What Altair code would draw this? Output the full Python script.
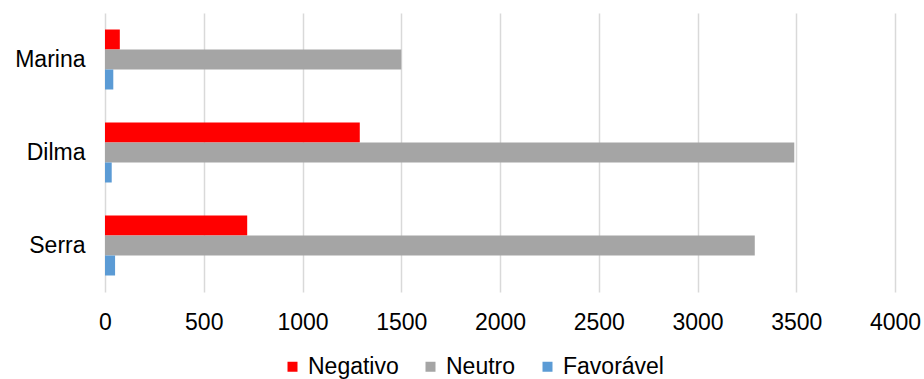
import altair as alt
import pandas as pd

# Candidates, top to bottom
candidates = ["Marina", "Dilma", "Serra"]
# Sentiment series
series = ["Negativo", "Neutro", "Favorável"]
series_colors = ["#FF0000", "#A5A5A5", "#5B9BD5"]

negativo = [75, 1290, 720]
neutro = [1500, 3490, 3290]
favoravel = [42, 34, 51]

x_ticks = [0, 500, 1000, 1500, 2000, 2500, 3000, 3500, 4000]

rows = []
for i, c in enumerate(candidates):
    rows.append({"Candidato": c, "Tipo": "Negativo", "Valor": negativo[i]})
    rows.append({"Candidato": c, "Tipo": "Neutro", "Valor": neutro[i]})
    rows.append({"Candidato": c, "Tipo": "Favorável", "Valor": favoravel[i]})
df = pd.DataFrame(rows)

FONT = "Liberation Sans"
FS = 23

chart = (
    alt.Chart(df)
    .mark_bar()
    .encode(
        x=alt.X(
            "Valor:Q",
            scale=alt.Scale(domain=[0, 4000], nice=False),
            axis=alt.Axis(
                values=x_ticks,
                format="d",
                title=None,
                grid=True,
                gridColor="#D9D9D9",
                gridWidth=1.5,
                domain=False,
                ticks=False,
                labelFlush=False,
                labelOverlap=False,
                labelPadding=19,
                labelFontSize=FS,
                labelFont=FONT,
                labelColor="#000000",
            ),
        ),
        y=alt.Y(
            "Candidato:N",
            sort=candidates,
            scale=alt.Scale(paddingInner=0.355, paddingOuter=0.1775),
            axis=alt.Axis(
                title=None,
                domain=False,
                ticks=False,
                grid=False,
                labelPadding=20,
                labelFontSize=FS,
                labelFont=FONT,
                labelColor="#000000",
            ),
        ),
        yOffset=alt.YOffset(
            "Tipo:N", sort=series, scale=alt.Scale(paddingInner=0, paddingOuter=0)
        ),
        color=alt.Color(
            "Tipo:N",
            sort=series,
            scale=alt.Scale(domain=series, range=series_colors),
            legend=alt.Legend(
                title=None,
                orient="none",
                direction="horizontal",
                legendX=176,
                legendY=342,
                symbolType="square",
                symbolSize=100,
                symbolStrokeWidth=0,
                labelOffset=4,
                columnPadding=20,
                labelFontSize=FS,
                labelFont=FONT,
                labelColor="#000000",
            ),
        ),
    )
    .properties(
        width=790,
        height=279,
        padding={"left": 105, "top": 13, "right": 29, "bottom": 87},
        autosize=alt.AutoSizeParams(type="none"),
    )
    .configure_view(stroke=None)
)

chart.save("out.html", embed_options={"renderer": "svg", "actions": False})
